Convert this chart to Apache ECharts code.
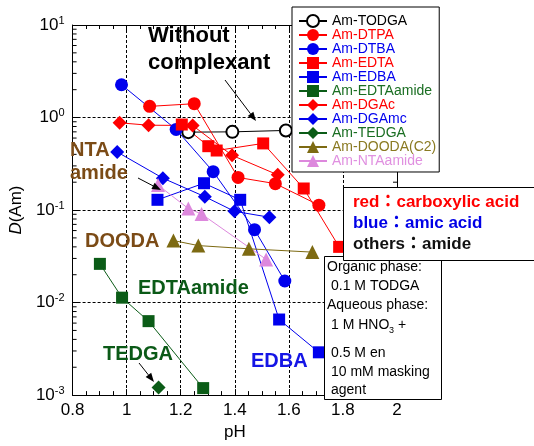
<!DOCTYPE html>
<html><head><meta charset="utf-8">
<script src="https://cdn.jsdelivr.net/npm/echarts@6/dist/echarts.min.js"></script>
<style>html,body{margin:0;padding:0;background:#fff}#c{width:534px;height:446px}</style>
</head><body><div id="c"></div>
<script>
// ---- data (pH, D(Am)) ----
const pH_TODGA = [1.228, 1.391, 1.589];
const D_TODGA  = [0.695, 0.70, 0.725];
const pH_DTPA = [1.085, 1.250, 1.412, 1.550, 1.711];
const D_DTPA  = [1.32, 1.41, 0.225, 0.193, 0.113];
const pH_DTBA = [0.981, 1.183, 1.320, 1.473, 1.585];
const D_DTBA  = [2.26, 0.743, 0.26, 0.0614, 0.0171];
const pH_EDTA = [1.204, 1.302, 1.333, 1.505, 1.655, 1.786];
const D_EDTA  = [0.84, 0.49, 0.44, 0.525, 0.171, 0.040];
const pH_EDBA = [1.114, 1.286, 1.420, 1.564, 1.711];
const D_EDBA  = [0.129, 0.195, 0.129, 0.00656, 0.0029];
const pH_EDTAamide = [0.901, 0.983, 1.081, 1.283];
const D_EDTAamide  = [0.0262, 0.0113, 0.0063, 0.00119];
const pH_DGAc = [0.974, 1.081, 1.244, 1.390, 1.559];
const D_DGAc  = [0.877, 0.826, 0.82, 0.39, 0.24];
const pH_DGAmc = [0.965, 1.134, 1.289, 1.399, 1.528];
const D_DGAmc  = [0.424, 0.221, 0.1396, 0.0969, 0.0836];
const pH_TEDGA = [1.118];
const D_TEDGA  = [0.00121];
const pH_DOODA = [1.173, 1.265, 1.452, 1.687];
const D_DOODA  = [0.0468, 0.0413, 0.0381, 0.0351];
const pH_NTAamide = [1.116, 1.228, 1.277, 1.516];
const D_NTAamide  = [0.186, 0.104, 0.0906, 0.0293];
const xTicks = [0.8, 1, 1.2, 1.4, 1.6, 1.8, 2];
const yExp = [-3, -2, -1, 0, 1];

const F = "'Liberation Sans', Arial, 'Noto Sans CJK JP', sans-serif";
const RED = '#ff0000', BLUE = '#0000ee', GREEN = '#0b5c17', OLIVE = '#7d6a12', PINK = '#dd88dd', BLACK = '#000000';

const defs = [
  ['Am-TODGA', BLACK, 'emptyCircle', 12, pH_TODGA, D_TODGA, BLACK],
  ['Am-DTPA', RED, 'circle', 13, pH_DTPA, D_DTPA, RED],
  ['Am-DTBA', BLUE, 'circle', 13, pH_DTBA, D_DTBA, BLUE],
  ['Am-EDTA', RED, 'rect', 12, pH_EDTA, D_EDTA, RED],
  ['Am-EDBA', BLUE, 'rect', 12, pH_EDBA, D_EDBA, BLUE],
  ['Am-EDTAamide', GREEN, 'rect', 12, pH_EDTAamide, D_EDTAamide, '#1a6e22'],
  ['Am-DGAc', RED, 'diamond', 14, pH_DGAc, D_DGAc, RED],
  ['Am-DGAmc', BLUE, 'diamond', 14, pH_DGAmc, D_DGAmc, BLUE],
  ['Am-TEDGA', GREEN, 'diamond', 14, pH_TEDGA, D_TEDGA, '#1a6e22'],
  ['Am-DOODA(C2)', OLIVE, 'triangle', 14, pH_DOODA, D_DOODA, '#8a7a22'],
  ['Am-NTAamide', PINK, 'triangle', 14, pH_NTAamide, D_NTAamide, '#e090e0']
];

const series = defs.map(d => ({
  name: d[0], type: 'line',
  data: d[4].map((x, i) => [x, d[5][i]]),
  symbol: d[2], symbolSize: d[3],
  itemStyle: { color: d[1] },
  lineStyle: { color: d[1], width: 1 },
  emphasis: { disabled: true },
  z: 3
}));

const axisLine = { show: true, lineStyle: { color: '#000', width: 1 } };
const dash = { show: true, lineStyle: { color: '#000', width: 1, type: [3, 2] } };

const chart = echarts.init(document.getElementById('c'), null, { renderer: 'canvas' });
const option = {
  animation: false,
  backgroundColor: '#fff',
  grid: { left: 70, right: 137, top: 25, bottom: 49 },
  legend: {
    orient: 'vertical', left: 292, top: 7,
    padding: [7, 3, 4, 6],
    itemWidth: 28, itemHeight: 15, itemGap: 0,
    backgroundColor: '#fff', borderColor: '#000', borderWidth: 1,
    textStyle: { fontSize: 14, fontFamily: F, lineHeight: 13 },
    data: defs.map(d => ({ name: d[0], textStyle: { color: d[6] } })),
    z: 5
  },
  xAxis: [{
    type: 'value', min: 0.8, max: 2, interval: 0.2, position: 'bottom',
    axisLine, axisTick: { inside: true, length: 6, lineStyle: { color: '#000' } },
    minorTick: { show: true, splitNumber: 4, length: 4, lineStyle: { color: '#000' } },
    splitLine: dash,
    axisLabel: { fontSize: 17, fontFamily: F, color: '#000', margin: 7,
      formatter: v => String(+v.toFixed(1)) },
    name: 'pH', nameLocation: 'middle', nameGap: 28,
    nameTextStyle: { fontSize: 17, fontFamily: F, color: '#000' }
  }, {
    type: 'value', min: 0.8, max: 2, interval: 0.2, position: 'top',
    axisLine, axisTick: { inside: true, length: 6, lineStyle: { color: '#000' } },
    minorTick: { show: true, splitNumber: 4, length: 4, lineStyle: { color: '#000' } },
    splitLine: { show: false }, axisLabel: { show: false }
  }],
  yAxis: [{
    type: 'log', logBase: 10, min: 0.001, max: 10, position: 'left',
    axisLine, axisTick: { inside: true, length: 6, lineStyle: { color: '#000' } },
    splitLine: dash,
    axisLabel: {
      margin: 8, color: '#000',
      formatter: v => '{b|10}{s|' + Math.round(Math.log10(v)) + '}',
      rich: {
        b: { fontSize: 17, fontFamily: F, color: '#000' },
        s: { fontSize: 11, fontFamily: F, color: '#000', verticalAlign: 'bottom', padding: [0, 0, 9, 0] }
      }
    },
    name: '{i|D}(Am)', nameLocation: 'middle', nameGap: 41, nameRotate: 90,
    nameTextStyle: { fontSize: 17, fontFamily: F, color: '#000',
      rich: { i: { fontSize: 17, fontFamily: F, fontStyle: 'italic', color: '#000' } } }
  }, {
    type: 'log', logBase: 10, min: 0.001, max: 10, position: 'right',
    axisLine, axisTick: { inside: true, length: 6, lineStyle: { color: '#000' } },
    splitLine: { show: false }, axisLabel: { show: false }
  }],
  series
};
chart.setOption(option);

// ---- annotations & minor log ticks ----
const g = [];
const xL = chart.convertToPixel({ xAxisIndex: 0 }, 0.8);
const xR = chart.convertToPixel({ xAxisIndex: 0 }, 2);
for (let e = -3; e < 1; e++) {
  for (let k = 2; k <= 9; k++) {
    const py = chart.convertToPixel({ yAxisIndex: 0 }, k * Math.pow(10, e));
    g.push({ type: 'line', shape: { x1: xL, y1: py, x2: xL + 4, y2: py }, style: { stroke: '#000', lineWidth: 1 }, z: 4, silent: true });
    g.push({ type: 'line', shape: { x1: xR - 4, y1: py, x2: xR, y2: py }, style: { stroke: '#000', lineWidth: 1 }, z: 4, silent: true });
  }
}
function txt(x, y, text, color, size, weight, extra) {
  g.push(Object.assign({ type: 'text', x, y, z: 20,
    style: { text, fill: color, font: (weight || 'normal') + ' ' + size + 'px ' + F, textVerticalAlign: 'middle', textAlign: 'left' } }, extra || {}));
}
function arrow(x1, y1, x2, y2) {
  const a = Math.atan2(y2 - y1, x2 - x1), L = 9, W = 3.5;
  const bx = x2 - L * Math.cos(a), by = y2 - L * Math.sin(a);
  g.push({ type: 'line', shape: { x1, y1, x2: bx, y2: by }, style: { stroke: '#000', lineWidth: 1 }, z: 20 });
  g.push({ type: 'polygon', shape: { points: [[x2, y2], [bx + W * Math.sin(a), by - W * Math.cos(a)], [bx - W * Math.sin(a), by + W * Math.cos(a)]] }, style: { fill: '#000' }, z: 20 });
}
const BROWN = '#7b4b16', TGREEN = '#0b5a17', TBLUE = '#1515e6';
txt(148, 36, 'Without', '#000', 22, 'bold');
txt(148, 63, 'complexant', '#000', 22, 'bold');
arrow(225, 80, 256, 121);
txt(70, 150, 'NTA', BROWN, 20, 'bold');
txt(70, 173, 'amide', BROWN, 20, 'bold');
arrow(138, 178, 161, 190);
txt(85, 241, 'DOODA', BROWN, 20, 'bold');
txt(138, 288, 'EDTAamide', TGREEN, 20, 'bold');
txt(103, 354, 'TEDGA', TGREEN, 20, 'bold');
arrow(139, 363, 154, 382);
txt(251, 361, 'EDBA', TBLUE, 20, 'bold');

// organic phase box
g.push({ type: 'rect', shape: { x: 324.5, y: 256.5, width: 117, height: 143 }, style: { fill: '#fff', stroke: '#000', lineWidth: 1 }, z: 15 });
txt(327, 267, 'Organic phase:', '#000', 14);
txt(331, 286, '0.1 M TODGA', '#000', 14);
txt(327, 305, 'Aqueous phase:', '#000', 14);
txt(331, 325, '1 M HNO', '#000', 14);
txt(389, 331, '3', '#000', 9);
txt(398, 325, '+', '#000', 14);
txt(331, 353, '0.5 M en', '#000', 14);
txt(331, 372, '10 mM masking', '#000', 14);
txt(331, 390, 'agent', '#000', 14);

// colour key box
g.push({ type: 'rect', shape: { x: 343.5, y: 187.5, width: 200, height: 73 }, style: { fill: '#fff', stroke: '#000', lineWidth: 1 }, z: 21 });
txt(353, 202, 'red：carboxylic acid', RED, 17, 'bold', { z: 22 });
txt(353, 223, 'blue：amic acid', '#0000e6', 17, 'bold', { z: 22 });
txt(353, 244, 'others：amide', '#111', 17, 'bold', { z: 22 });

chart.setOption({ graphic: g });
</script></body></html>
